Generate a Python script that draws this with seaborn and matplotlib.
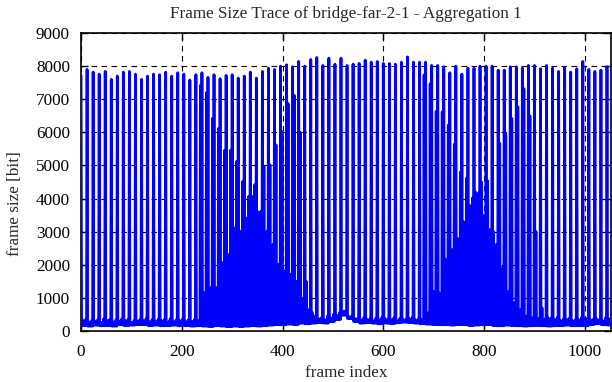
import matplotlib
matplotlib.use("Agg")
import matplotlib.pyplot as plt
import seaborn as sns
import numpy as np
import pandas as pd

# one entry per GOP of 12 frames (I B B P B B P B B P B B), sizes in bit
i_frame_bits = [
    7720, 7900, 7820, 7760, 7840, 7600, 7700, 7820, 7840, 7760, 7600, 7700,
    7760, 7740, 7820, 7700, 7800, 7760, 7580, 7740, 7800, 7660, 7740, 7620,
    7720, 7740, 7640, 7700, 7820, 7640, 7840, 7940, 7900, 8000, 8040, 7980,
    8140, 8000, 8200, 8260, 8020, 8240, 8060, 8240, 8020, 8060, 8080, 8180,
    8120, 8140, 8080, 8080, 8060, 8120, 8280, 8120, 8120, 8120, 8020, 8020,
    7980, 7800, 8000, 7760, 7940, 7940, 8000, 8000, 8000, 7880, 7880, 7980,
    7980, 7940, 8020, 8020, 7920, 8020, 7940, 7840, 7960, 7820, 7920, 8140,
    7900, 7840, 7880, 7980,
]
p1_bits = [
    330, 280, 300, 260, 320, 280, 300, 330, 260, 300, 320, 280,
    300, 320, 260, 300, 330, 300, 290, 320, 1170, 1320, 1320, 2070,
    2320, 3120, 3020, 3420, 4070, 3600, 4970, 5020, 5620, 6020, 6870, 7120,
    6000, 1500, 550, 380, 340, 400, 480, 560, 450, 380, 340, 360,
    310, 340, 380, 340, 310, 360, 380, 340, 360, 550, 1200, 1150,
    2170, 2470, 2800, 3300, 3800, 4200, 4500, 4540, 3000, 5670, 5970, 6420,
    6770, 7320, 6500, 3000, 700, 400, 340, 310, 360, 310, 340, 380,
    340, 360, 310, 380,
]
p2_bits = [
    260, 240, 280, 260, 240, 260, 280, 260, 240, 260, 280, 260,
    240, 260, 280, 260, 240, 260, 280, 300, 320, 350, 380, 400,
    420, 450, 480, 500, 520, 480, 450, 420, 400, 380, 350, 330,
    320, 300, 350, 300, 300, 350, 450, 600, 400, 330, 300, 280,
    260, 280, 300, 280, 260, 280, 300, 280, 260, 320, 380, 400,
    420, 450, 480, 500, 520, 550, 520, 500, 480, 450, 420, 400,
    380, 350, 320, 300, 280, 260, 260, 280, 260, 280, 260, 280,
    300, 330, 280, 260,
]
p3_bits = [
    350, 310, 340, 370, 350, 330, 370, 340, 310, 350, 370, 340,
    350, 340, 370, 340, 350, 340, 350, 7420, 7200, 6420, 6120, 5460,
    5460, 5120, 4520, 4070, 4420, 3620, 3020, 2620, 2020, 1820, 1720, 1500,
    1000, 650, 450, 400, 450, 500, 550, 600, 450, 380, 400, 360,
    380, 400, 360, 400, 380, 360, 400, 360, 7740, 7470, 6640, 6620,
    6220, 5640, 4800, 4620, 4020, 4170, 3500, 3070, 2620, 1920, 1200, 850,
    650, 450, 400, 380, 360, 380, 400, 360, 380, 340, 400, 380,
    360, 340, 400, 380,
]
b_bits = [
    170, 150, 180, 160, 170, 150, 190, 170, 180, 200, 190, 170,
    180, 160, 170, 180, 160, 170, 150, 160, 150, 140, 170, 150,
    130, 150, 140, 150, 160, 150, 170, 180, 200, 190, 210, 200,
    240, 220, 240, 260, 240, 290, 350, 480, 380, 290, 240, 260,
    240, 220, 240, 230, 250, 270, 260, 240, 220, 210, 200, 190,
    190, 180, 200, 190, 170, 180, 190, 200, 170, 160, 180, 170,
    160, 150, 160, 170, 160, 150, 160, 170, 180, 160, 170, 160,
    200, 220, 190, 180,
]
n_frames = 1050

frames = []
for i, p1, p2, p3, b in zip(i_frame_bits, p1_bits, p2_bits, p3_bits, b_bits):
    frames.extend([i, b, b, p1, b, b, p2, b, b, p3, b, b])
frames = frames[:n_frames]
df = pd.DataFrame({"frame index": np.arange(n_frames), "frame size": frames})

sns.set_style("ticks")
plt.rcParams["font.family"] = ["Liberation Serif", "DejaVu Serif"]

fig = plt.figure(figsize=(6.12, 3.82), dpi=100)
ax = fig.add_axes([0.1324, 0.1335, 0.8660, 0.7801])

sns.lineplot(data=df, x="frame index", y="frame size", color="#0000ff",
             linewidth=2.0, ax=ax, zorder=3)

ax.set_xlim(0, 1052)
ax.set_ylim(0, 9000)
ax.set_xticks(range(0, 1001, 200))
ax.set_yticks(range(0, 9001, 1000))
ax.grid(True, color="black", linestyle=(0, (5, 4)), linewidth=0.8, zorder=0)
ax.set_axisbelow(True)
ax.tick_params(direction="in", length=5, width=1, top=True, right=True,
               labelsize=12.3, colors="black")
ax.tick_params(axis="x", pad=9)
ax.tick_params(axis="y", pad=8)
for s in ax.spines.values():
    s.set_linewidth(1.2)
    s.set_color("black")

ax.set_title("Frame Size Trace of bridge-far-2-1 - Aggregation 1", fontsize=12.3, pad=11)
ax.set_xlabel("frame index", fontsize=12.3, labelpad=4)
ax.set_ylabel("frame size [bit]", fontsize=12.3)
ax.yaxis.set_label_coords(-0.109, 0.426)

fig.savefig("out.png", dpi=100)
